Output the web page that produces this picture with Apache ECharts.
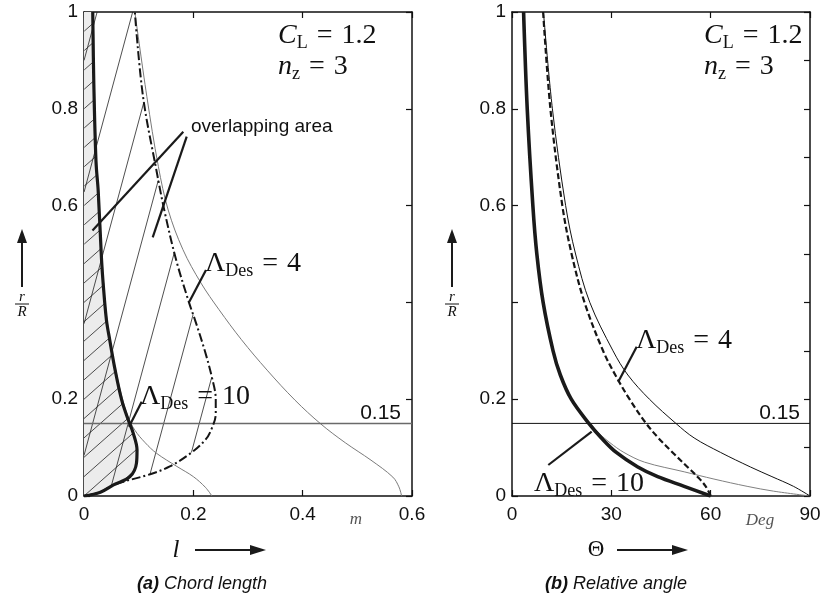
<!DOCTYPE html>
<html><head><meta charset="utf-8">
<script src="https://cdn.jsdelivr.net/npm/echarts@6/dist/echarts.min.js"></script>
<style>html,body{margin:0;padding:0;background:#fff}#c{width:833px;height:600px}</style>
</head><body><div id="c"></div>
<script>
// ---------- (a) chord length l [m] versus r/R ----------
const l10Thick_y = [0, 0.008, 0.023, 0.04, 0.068, 0.095, 0.13, 0.157, 0.198, 0.26, 0.323, 0.364, 0.44, 0.49, 0.63, 0.69, 0.85, 1];
const l10Thick_x = [0, 0.03, 0.054, 0.084, 0.096, 0.097, 0.090, 0.081, 0.069, 0.057, 0.047, 0.041, 0.035, 0.032, 0.026, 0.022, 0.018, 0.016];
const l4Dash_y = [0, 0.008, 0.023, 0.045, 0.061, 0.09, 0.116, 0.135, 0.17, 0.2, 0.245, 0.3, 0.364, 0.4, 0.49, 0.59, 0.67, 0.825, 1];
const l4Dash_x = [0, 0.03, 0.054, 0.121, 0.157, 0.197, 0.222, 0.232, 0.241, 0.241, 0.234, 0.221, 0.203, 0.192, 0.168, 0.147, 0.133, 0.108, 0.093];
const l4Thin_y = [1, 0.825, 0.681, 0.591, 0.509, 0.44, 0.385, 0.323, 0.26, 0.198, 0.149, 0.11, 0.074, 0.039, 0.019, 0];
const l4Thin_x = [0.093, 0.115, 0.136, 0.154, 0.181, 0.214, 0.247, 0.288, 0.335, 0.386, 0.433, 0.478, 0.525, 0.565, 0.576, 0.581];
const l10Thin_y = [1, 0.85, 0.69, 0.49, 0.364, 0.26, 0.198, 0.165, 0.136, 0.11, 0.088, 0.061, 0.04, 0.018, 0];
const l10Thin_x = [0.017, 0.019, 0.023, 0.033, 0.042, 0.058, 0.071, 0.080, 0.093, 0.112, 0.133, 0.170, 0.200, 0.222, 0.234];
const refLine_y = 0.15;

// ---------- (b) relative angle Theta [deg] versus r/R ----------
const t10Thick_y = [1, 0.8, 0.6, 0.5, 0.4, 0.3, 0.25, 0.2, 0.15, 0.12, 0.09, 0.06, 0.04, 0.02, 0];
const t10Thick_x = [3.5, 4.6, 6.3, 7.5, 9.4, 12.4, 14.6, 17.9, 23.2, 27, 31.5, 38, 44, 52, 60];
const t4Dash_y = [1, 0.8, 0.6, 0.5, 0.4, 0.3, 0.25, 0.2, 0.15, 0.12, 0.09, 0.06, 0.04, 0.02, 0];
const t4Dash_x = [9.4, 11.6, 15.2, 18, 21.9, 27.5, 31.2, 35.5, 40.5, 44.2, 48.5, 53, 56, 58.5, 60];
const t4Thin_y = [1, 0.8, 0.6, 0.5, 0.4, 0.3, 0.25, 0.2, 0.15, 0.12, 0.09, 0.06, 0.04, 0.02, 0];
const t4Thin_x = [9.5, 12.2, 16.2, 19.2, 23.5, 30.5, 35, 41.5, 49.5, 55, 63, 72, 78.5, 85, 90];
const t10Thin_y = [1, 0.8, 0.6, 0.5, 0.4, 0.3, 0.25, 0.2, 0.17, 0.15, 0.13, 0.11, 0.09, 0.07, 0.05, 0.035, 0.02, 0.01, 0];
const t10Thin_x = [3.6, 4.7, 6.4, 7.6, 9.5, 12.5, 14.7, 18.1, 20.9, 23.6, 26.2, 29.6, 33.8, 40.0, 52, 61, 71, 79, 90];

// ---------- helpers ----------
const pairs = (xs, ys) => xs.map((x, i) => [x, ys[i]]);
function interpX(ys, xs, y) {
  for (let i = 0; i < ys.length - 1; i++) {
    const y0 = Math.min(ys[i], ys[i+1]), y1 = Math.max(ys[i], ys[i+1]);
    if (y >= y0 && y <= y1) {
      const t = (ys[i+1] === ys[i]) ? 0 : (y - ys[i]) / (ys[i+1] - ys[i]);
      return xs[i] + t * (xs[i+1] - xs[i]);
    }
  }
  return NaN;
}
// clip a straight hatch line x = f(y) to the region 0 <= x <= bound(y)
function clipHatch(f, bound) {
  let y0 = null, y1 = null;
  for (let y = 0; y <= 1.00001; y += 0.0005) {
    const x = f(y), b = bound(y);
    if (x >= 0 && x <= b) { if (y0 === null) y0 = y; y1 = y; }
  }
  return y0 === null ? null : [f(y0), y0, f(y1), Math.min(y1, 1)];
}
const boundThick = y => interpX(l10Thick_y, l10Thick_x, y);
const boundDash = y => interpX(l4Dash_y, l4Dash_x, y);
const denseHatch = [];
for (let k = -3; k <= 26; k++) {
  const b = 0.04 * k;
  const s = clipHatch(y => (y - b) / 1.0, boundThick);
  if (s && Math.abs(s[3] - s[1]) > 0.002) denseHatch.push(s);
}
const steepHatch = [];
for (let k = 0; k <= 7; k++) {
  const a = -0.215 + 0.065 * k;
  const s = clipHatch(y => 0.239 * y + a, boundDash);
  if (s && Math.abs(s[3] - s[1]) > 0.002) steepHatch.push(s);
}

const FS = 'Liberation Serif', FA = 'Liberation Sans';
const tickLbl = { fontFamily: FA, fontSize: 19, color: '#111' };

function segSeries(data, xi, yi, color, w) {
  return {
    type: 'custom', xAxisIndex: xi, yAxisIndex: yi, silent: true, clip: true, z: 3,
    encode: { x: [0, 2], y: [1, 3] },
    data: data,
    renderItem: (p, api) => {
      const a = api.coord([api.value(0), api.value(1)]);
      const b = api.coord([api.value(2), api.value(3)]);
      return { type: 'line', shape: { x1: a[0], y1: a[1], x2: b[0], y2: b[1] },
               style: { stroke: color, lineWidth: w } };
    }
  };
}
function lineS(xs, ys, xi, yi, color, w, type, z, smooth) {
  return {
    type: 'line', xAxisIndex: xi, yAxisIndex: yi, data: pairs(xs, ys),
    symbol: 'none', smooth: smooth === undefined ? 0.35 : smooth,
    clip: true, z: z || 4,
    lineStyle: { color: color, width: w, type: type || 'solid', cap: 'butt', join: 'round' },
    silent: true
  };
}

function xAx(grid, min, max, interval, pos, show) {
  return {
    type: 'value', gridIndex: grid, min: min, max: max, interval: interval, position: pos,
    axisLine: { show: true, onZero: false, lineStyle: { color: '#111', width: 1.5 } },
    axisTick: { show: true, inside: true, length: 6, lineStyle: { color: '#111', width: 1.2 } },
    axisLabel: show ? Object.assign({ show: true, margin: 9 }, tickLbl) : { show: false },
    splitLine: { show: false }
  };
}
function yAx(grid, interval, pos, show) {
  return {
    type: 'value', gridIndex: grid, min: 0, max: 1, interval: interval, position: pos,
    axisLine: { show: true, onZero: false, lineStyle: { color: '#111', width: 1.5 } },
    axisTick: { show: true, inside: true, length: 6, lineStyle: { color: '#111', width: 1.2 } },
    axisLabel: show ? Object.assign({ show: true, margin: 6,
      formatter: v => (Math.abs(v - 0.4) < 1e-6 ? '' : String(+v.toFixed(1))) }, tickLbl) : { show: false },
    splitLine: { show: false }
  };
}

// math-like rich text
const R = {
  i: { fontFamily: FS, fontStyle: 'italic', fontSize: 28, lineHeight: 32, color: '#111' },
  r: { fontFamily: FS, fontSize: 28, lineHeight: 32, color: '#111' },
  s: { fontFamily: FS, fontSize: 18, lineHeight: 15, verticalAlign: 'bottom', color: '#111' },
  e: { fontFamily: FS, fontSize: 28, lineHeight: 32, color: '#111', padding: [0, 9, 0, 9] }
};
function mtext(x, y, str) {
  return { type: 'text', x: x, y: y, z: 50,
           style: { text: str, rich: R, fill: '#111', align: 'left', verticalAlign: 'middle' } };
}
function seg(x1, y1, x2, y2, w, c) {
  return { type: 'line', z: 50, shape: { x1, y1, x2, y2 }, style: { stroke: c || '#1a1a1a', lineWidth: w } };
}
function tri(pts) { return { type: 'polygon', z: 50, shape: { points: pts }, style: { fill: '#1a1a1a' } }; }
function frac(cx) {
  return [
    { type: 'text', z: 50, x: cx, y: 297, style: { text: 'r', font: 'italic 15px "Liberation Serif"', fill: '#111', align: 'center', verticalAlign: 'middle' } },
    seg(cx - 7, 304, cx + 7, 304, 1, '#111'),
    { type: 'text', z: 50, x: cx, y: 312, style: { text: 'R', font: 'italic 15px "Liberation Serif"', fill: '#111', align: 'center', verticalAlign: 'middle' } },
    seg(cx, 287, cx, 240, 2),
    tri([[cx - 5, 243], [cx, 229], [cx + 5, 243]])
  ];
}

const chart = echarts.init(document.getElementById('c'), null, { renderer: 'canvas' });
chart.setOption({
  animation: false,
  backgroundColor: '#fff',
  grid: [
    { left: 84, top: 12, width: 328, height: 484 },
    { left: 512, top: 12, width: 298, height: 484 }
  ],
  xAxis: [
    xAx(0, 0, 0.6, 0.2, 'bottom', true),
    xAx(0, 0, 0.6, 0.2, 'top', false),
    xAx(1, 0, 90, 30, 'bottom', true),
    xAx(1, 0, 90, 30, 'top', false)
  ],
  yAxis: [
    yAx(0, 0.2, 'left', true),
    yAx(0, 0.2, 'right', false),
    yAx(1, 0.2, 'left', true),
    yAx(1, 0.1, 'right', false)
  ],
  series: [
    // shaded area under the thick curve
    {
      type: 'custom', xAxisIndex: 0, yAxisIndex: 0, silent: true, clip: true, z: 1,
      data: [[0, 0]],
      renderItem: (p, api) => {
        const pts = [api.coord([0, 0])];
        for (let i = 0; i < l10Thick_x.length; i++) pts.push(api.coord([l10Thick_x[i], l10Thick_y[i]]));
        pts.push(api.coord([0, 1]));
        return { type: 'polygon', shape: { points: pts, smooth: 0.3 }, style: { fill: '#ececec' } };
      }
    },
    segSeries(denseHatch, 0, 0, '#222', 0.8),
    segSeries(steepHatch, 0, 0, '#222', 0.8),
    lineS(l4Thin_x, l4Thin_y, 0, 0, '#7a7a7a', 1),
    lineS(l10Thin_x, l10Thin_y, 0, 0, '#7a7a7a', 1),
    lineS([0, 0.6], [refLine_y, refLine_y], 0, 0, '#6a6a6a', 1.5, 'solid', 4, false),
    lineS(l4Dash_x, l4Dash_y, 0, 0, '#151515', 2, [9, 3, 2, 3], 5),
    lineS(l10Thick_x, l10Thick_y, 0, 0, '#1a1a1a', 3.2, 'solid', 6),

    lineS(t10Thin_x, t10Thin_y, 2, 2, '#808080', 1),
    lineS(t4Thin_x, t4Thin_y, 2, 2, '#111', 1),
    lineS([0, 90], [refLine_y, refLine_y], 2, 2, '#111', 1, 'solid', 4, false),
    lineS(t4Dash_x, t4Dash_y, 2, 2, '#151515', 2.2, [6, 3], 5),
    lineS(t10Thick_x, t10Thick_y, 2, 2, '#1a1a1a', 3.6, 'solid', 6)
  ],
  graphic: [].concat(
    [
      mtext(278, 36, '{i|C}{s|L}{e|=}{r|1.2}'),
      mtext(278, 67, '{i|n}{s|z}{e|=}{r|3}'),
      mtext(704, 36, '{i|C}{s|L}{e|=}{r|1.2}'),
      mtext(704, 67, '{i|n}{s|z}{e|=}{r|3}'),
      mtext(205, 264, '{r|Λ}{s|Des}{e|=}{r|4}'),
      mtext(140, 397, '{r|Λ}{s|Des}{e|=}{r|10}'),
      mtext(636, 341, '{r|Λ}{s|Des}{e|=}{r|4}'),
      mtext(534, 484, '{r|Λ}{s|Des}{e|=}{r|10}'),
      { type: 'text', z: 50, x: 191, y: 127, style: { text: 'overlapping area', font: '19px "Liberation Sans"', fill: '#111', verticalAlign: 'middle' } },
      { type: 'text', z: 50, x: 401, y: 413, style: { text: String(refLine_y), font: '21px "Liberation Sans"', fill: '#111', align: 'right', verticalAlign: 'middle' } },
      { type: 'text', z: 50, x: 800, y: 413, style: { text: String(refLine_y), font: '21px "Liberation Sans"', fill: '#111', align: 'right', verticalAlign: 'middle' } },
      { type: 'text', z: 50, x: 356, y: 520, style: { text: 'm', font: 'italic 17px "Liberation Serif"', fill: '#555', align: 'center', verticalAlign: 'middle' } },
      { type: 'text', z: 50, x: 760, y: 521, style: { text: 'Deg', font: 'italic 17px "Liberation Serif"', fill: '#555', align: 'center', verticalAlign: 'middle' } },
      // leaders
      seg(92.5, 230.5, 183.3, 131.7, 2.2),
      seg(152.7, 237.3, 186.7, 136.7, 2.2),
      seg(189.3, 301.7, 206, 270, 2.2),
      seg(129, 426.7, 141.7, 401.7, 2.2),
      seg(618.3, 381.7, 636.7, 346.7, 2.2),
      seg(548.3, 465, 591.7, 431.7, 2.2),
      // axis name arrows
      { type: 'text', z: 50, x: 176, y: 550, style: { text: 'l', font: 'italic 25px "Liberation Serif"', fill: '#111', align: 'center', verticalAlign: 'middle' } },
      seg(195, 550, 252, 550, 2),
      tri([[250, 545], [266, 550], [250, 555]]),
      { type: 'text', z: 50, x: 596, y: 550, style: { text: 'Θ', font: '23px "Liberation Serif"', fill: '#111', align: 'center', verticalAlign: 'middle' } },
      seg(617, 550, 674, 550, 2),
      tri([[672, 545], [688, 550], [672, 555]]),
      { type: 'text', z: 50, x: 202, y: 584, style: { text: '{b|(a)} Chord length', rich: { b: { font: 'italic bold 18px "Liberation Sans"', fill: '#111' } }, font: 'italic 18px "Liberation Sans"', fill: '#111', align: 'center', verticalAlign: 'middle' } },
      { type: 'text', z: 50, x: 616, y: 584, style: { text: '{b|(b)} Relative angle', rich: { b: { font: 'italic bold 18px "Liberation Sans"', fill: '#111' } }, font: 'italic 18px "Liberation Sans"', fill: '#111', align: 'center', verticalAlign: 'middle' } }
    ],
    frac(22),
    frac(452)
  )
});
</script>
</body></html>
